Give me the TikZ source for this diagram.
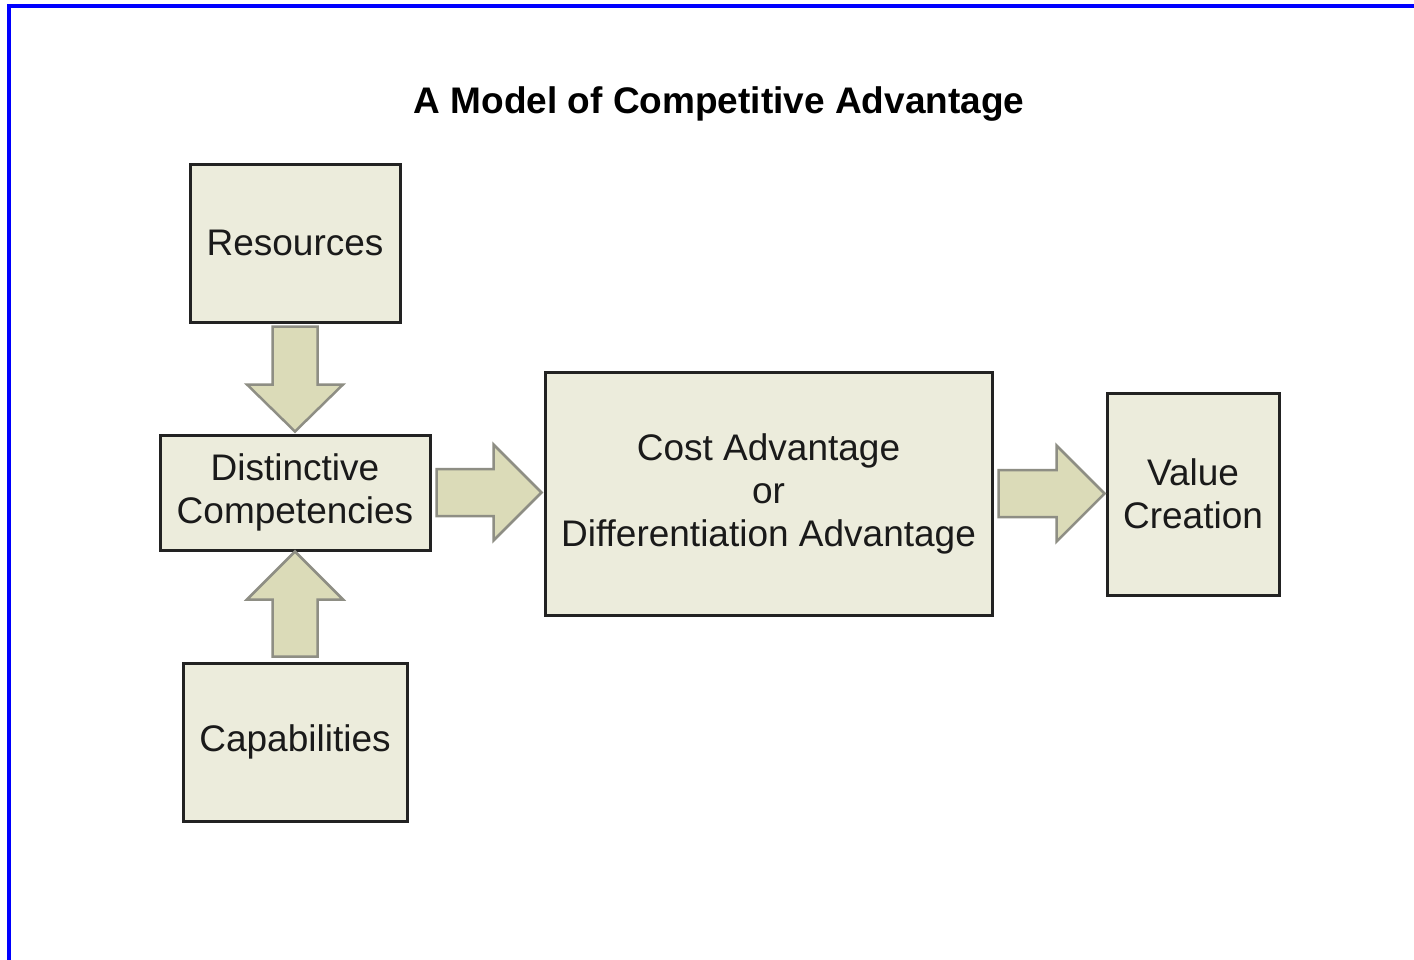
\documentclass[tikz,border=0pt]{standalone}
\usepackage{fontspec}
\setmainfont{Liberation Sans}
\usetikzlibrary{calc}
\definecolor{boxfill}{HTML}{ECECDC}
\definecolor{boxline}{HTML}{222222}
\definecolor{arrfill}{HTML}{DBDBB8}
\definecolor{arrline}{HTML}{8E8E84}
\definecolor{txt}{HTML}{1A1A1A}
\tikzset{
  box/.style={draw=boxline, fill=boxfill, line width=3pt, text=txt, align=center,
    inner sep=0pt, font=\fontsize{37}{43}\selectfont},
  barrow/.style={draw=arrline, fill=arrfill, line width=2.5pt, line join=miter},
  frame/.style={draw=blue, line width=4pt}
}
\begin{document}
\begin{tikzpicture}[x=1pt,y=-1pt]
\useasboundingbox[fill=white] (0,0) rectangle (1414,959);
\draw[frame] (9,962) -- (9,6) -- (1418,6);
\node[font=\bfseries\fontsize{37}{44}\selectfont, text=black] (title) at (719,104) {A Model of Competitive Advantage};
\node[box, minimum width=210pt, minimum height=158pt] (res) at (295,243) {Resources};
\node[box, minimum width=270pt, minimum height=115pt] (dc) at (295,492.5) {Distinctive\\Competencies};
\node[box, minimum width=224pt, minimum height=158pt] (cap) at (295,742) {Capabilities};
\node[box, minimum width=447pt, minimum height=243pt] (cost) at (768.5,493.5) {Cost Advantage\\or\\Differentiation Advantage};
\node[box, minimum width=172pt, minimum height=202pt] (val) at (1193,494) {Value\\Creation};
% down arrow resources -> distinctive
\draw[barrow, shift={(res.south)}] (-22.5,3) -- (22.5,3) -- (22.5,61) -- (48,61) -- (0,108) -- (-48,61) -- (-22.5,61) -- cycle;
% up arrow capabilities -> distinctive
\draw[barrow, shift={(cap.north)}] (-22.5,-5) -- (22.5,-5) -- (22.5,-62) -- (48,-62) -- (0,-110) -- (-48,-62) -- (-22.5,-62) -- cycle;
% right arrow distinctive -> cost
\draw[barrow, shift={(dc.east)}] (5,-23.5) -- (5,23.5) -- (62,23.5) -- (62,48) -- (110,0) -- (62,-48) -- (62,-23.5) -- cycle;
% right arrow cost -> value
\draw[barrow, shift={(cost.east)}] (5,-23.5) -- (5,23.5) -- (63,23.5) -- (63,48) -- (111,0) -- (63,-48) -- (63,-23.5) -- cycle;
\end{tikzpicture}
\end{document}
